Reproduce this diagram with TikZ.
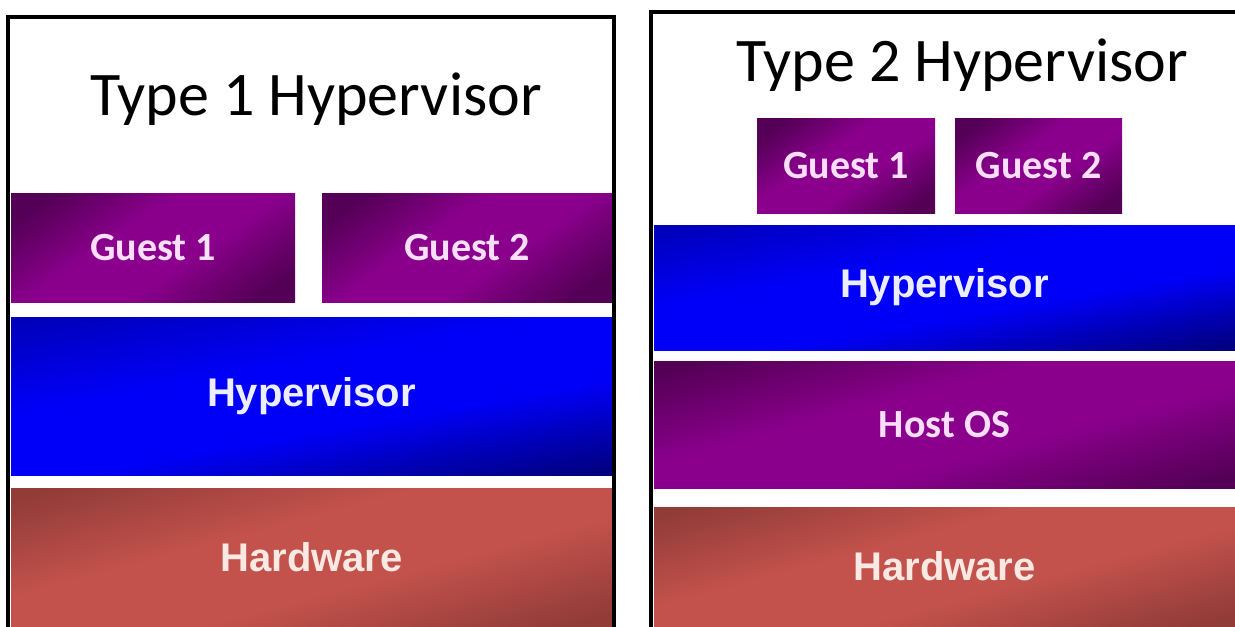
\documentclass[tikz,border=0pt]{standalone}
\usepackage{xcolor}
\usepackage{fontspec}
\setmainfont{Carlito}
\newfontfamily\arialfont{Liberation Sans}
\usepackage{tikz}
\usetikzlibrary{positioning,calc}

\definecolor{guestdark}{RGB}{84,0,86}
\definecolor{guestlight}{RGB}{138,0,140}
\definecolor{hypdark}{RGB}{0,0,128}
\definecolor{hyplight}{RGB}{0,0,248}
\definecolor{hwdark}{RGB}{146,60,56}
\definecolor{hwlight}{RGB}{196,82,76}
\definecolor{guesttext}{RGB}{250,222,250}
\definecolor{hyptext}{RGB}{236,238,255}
\definecolor{hwtext}{RGB}{250,232,226}

\pgfdeclareverticalshading[lyrtop,lyrmid,lyrbot]{layershade}{100bp}{color(0bp)=(lyrbot); color(22bp)=(lyrbot); color(42bp)=(lyrmid); color(58bp)=(lyrmid); color(78bp)=(lyrtop); color(100bp)=(lyrtop)}

\tikzset{
    layer/.style={rectangle, inner sep=0pt, shading=layershade, font=\bfseries\fontsize{20}{24}\selectfont},
    layercolors/.code args={#1/#2/#3}{\colorlet{lyrtop}{#1}\colorlet{lyrmid}{#2}\colorlet{lyrbot}{#3}},
    guestbox/.style={layer, layercolors=guestdark/guestlight/guestdark, shading angle=35, text=guesttext},
    hostbox/.style={layer, layercolors=guestdark/guestlight/guestdark, shading angle=15, text=guesttext},
    hypbox/.style={layer, layercolors=hyplight!75!black/hyplight/hypdark, shading angle=10, text=hyptext, font=\arialfont\bfseries\fontsize{20}{24}\selectfont},
    hwbox/.style={layer, layercolors=hwdark/hwlight/hwdark, shading angle=15, text=hwtext, font=\arialfont\bfseries\fontsize{20}{24}\selectfont},
    frame/.style={draw=black, line width=2pt},
    heading/.style={anchor=base, font=\fontsize{31}{36}\selectfont}
}

\begin{document}
\begin{tikzpicture}[x=0.5pt, y=-0.5pt]
    \useasboundingbox (0,0) rectangle (1235,626);
    \begin{scope}
    \clip (0,0) rectangle (1235,626);

    % Type 1
    \node[heading] (t1title) at (316,116) {Type 1 Hypervisor};
    \node[guestbox, minimum width=142pt, minimum height=54.5pt] (t1guest1) at (153,247.5) {Guest 1};
    \node[guestbox, minimum width=145pt, minimum height=54.5pt] (t1guest2) at (467,247.5) {Guest 2};
    \node[hypbox, minimum width=300.5pt, minimum height=79pt] (t1hyp) at (311.5,396) {Hypervisor};
    \node[hwbox, minimum width=300.5pt, minimum height=69pt] (t1hw) at (311.5,557) {Hardware};
    \draw[frame] (8,17) rectangle (614,640);

    % Type 2
    \node[heading] (t2title) at (962,82) {Type 2 Hypervisor};
    \node[guestbox, minimum width=89pt, minimum height=47.5pt] (t2guest1) at (846,165.5) {Guest 1};
    \node[guestbox, minimum width=83.5pt, minimum height=47.5pt] (t2guest2) at (1038.5,165.5) {Guest 2};
    \node[hypbox, minimum width=290.5pt, minimum height=62.5pt] (t2hyp) at (944.5,287.5) {Hypervisor};
    \node[hostbox, minimum width=290.5pt, minimum height=63.5pt] (t2host) at (944.5,424.5) {Host OS};
    \node[hwbox, minimum width=290.5pt, minimum height=59.5pt] (t2hw) at (944.5,566.5) {Hardware};
    \draw[frame] (651,12) rectangle (1250,640);
    \end{scope}
\end{tikzpicture}
\end{document}
